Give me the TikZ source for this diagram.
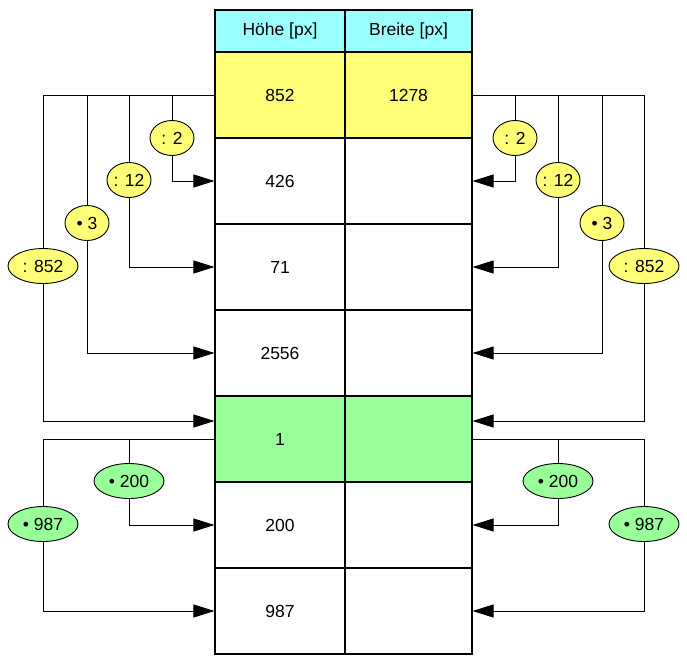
\documentclass[tikz,border=0pt]{standalone}
\usepackage{fontspec}
\setmainfont{Liberation Sans}
\usetikzlibrary{arrows.meta,shapes.geometric}
\definecolor{headcyan}{HTML}{99FFFF}
\definecolor{divyellow}{HTML}{FFFF77}
\definecolor{mulgreen}{HTML}{99FF99}
\tikzset{
	% ---- default
	every path/.style={line width=0.9pt},
	every node/.style={font=\fontsize{17.5}{20}\selectfont},
	% ---- custom
	cell/.style={draw, line width=1.1pt, minimum width=130pt, minimum height=86pt, inner sep=0pt},
	narrow cell/.style={cell, minimum width=127pt},
	head/.style={fill=headcyan, minimum height=42pt},
	op/.style={ellipse, draw, line width=0.9pt, minimum width=44pt, minimum height=35pt, inner sep=0pt},
	wide op/.style={op, minimum width=70pt},
	arr/.style={-{Triangle[length=21pt, width=13pt]}},
}

\begin{document}
\begin{tikzpicture}[x=1pt, y=-1pt]

% parameters %{{{2

	\def\hx{280}
	\def\bx{408.5}
	\def\rowh{86}

	\useasboundingbox (0,0) rectangle (687,661);

% table %{{{2

	\node[cell, head] (hoehe0) at (\hx,31) {Höhe [px]};
	\node[narrow cell, head] (breite0) at (\bx,31) {Breite [px]};

	\foreach \val/\col [count=\i] in {852/divyellow, 426/white, 71/white, 2556/white, 1/mulgreen, 200/white, 987/white} {
		\node[cell, fill=\col] (hoehe\i) at (\hx,{95+\rowh*(\i-1)}) {\val};
		\node[narrow cell, fill=\col] (breite\i) at (\bx,{95+\rowh*(\i-1)}) {\ifnum\i=1 1278\fi};
	}

% operations left %{{{2

	\node[op, fill=divyellow] (ldiv2) at (172,138) {: 2};
	\node[op, fill=divyellow] (ldiv12) at (129,180) {: 12};
	\node[op, fill=divyellow] (lmul3) at (87,223) {• 3};
	\node[wide op, fill=divyellow] (ldiv852) at (43,266) {: 852};

	\node[wide op, fill=mulgreen] (lmul200) at (129,481) {• 200};
	\node[wide op, fill=mulgreen] (lmul987) at (43,524) {• 987};

% operations right %{{{2

	\node[op, fill=divyellow] (rdiv2) at (515,138) {: 2};
	\node[op, fill=divyellow] (rdiv12) at (558,180) {: 12};
	\node[op, fill=divyellow] (rmul3) at (602,223) {• 3};
	\node[wide op, fill=divyellow] (rdiv852) at (644,266) {: 852};

	\node[wide op, fill=mulgreen] (rmul200) at (558,481) {• 200};
	\node[wide op, fill=mulgreen] (rmul987) at (644,524) {• 987};

% connectors left %{{{2

	\foreach \op/\to in {ldiv2/hoehe2, ldiv12/hoehe3, lmul3/hoehe4} {
		\draw (hoehe1.west) -| (\op);
		\draw[arr] (\op) |- (\to.west);
	}
	\draw (hoehe1.west) -| (ldiv852);
	\draw[arr] (ldiv852) |- ([yshift=18pt]hoehe5.west);

	\foreach \op/\to in {lmul200/hoehe6, lmul987/hoehe7} {
		\draw (hoehe5.west) -| (\op);
		\draw[arr] (\op) |- (\to.west);
	}

% connectors right %{{{2

	\foreach \op/\to in {rdiv2/breite2, rdiv12/breite3, rmul3/breite4} {
		\draw (breite1.east) -| (\op);
		\draw[arr] (\op) |- (\to.east);
	}
	\draw (breite1.east) -| (rdiv852);
	\draw[arr] (rdiv852) |- ([yshift=18pt]breite5.east);

	\foreach \op/\to in {rmul200/breite6, rmul987/breite7} {
		\draw (breite5.east) -| (\op);
		\draw[arr] (\op) |- (\to.east);
	}

% closing %{{{2

\end{tikzpicture}
\end{document}
